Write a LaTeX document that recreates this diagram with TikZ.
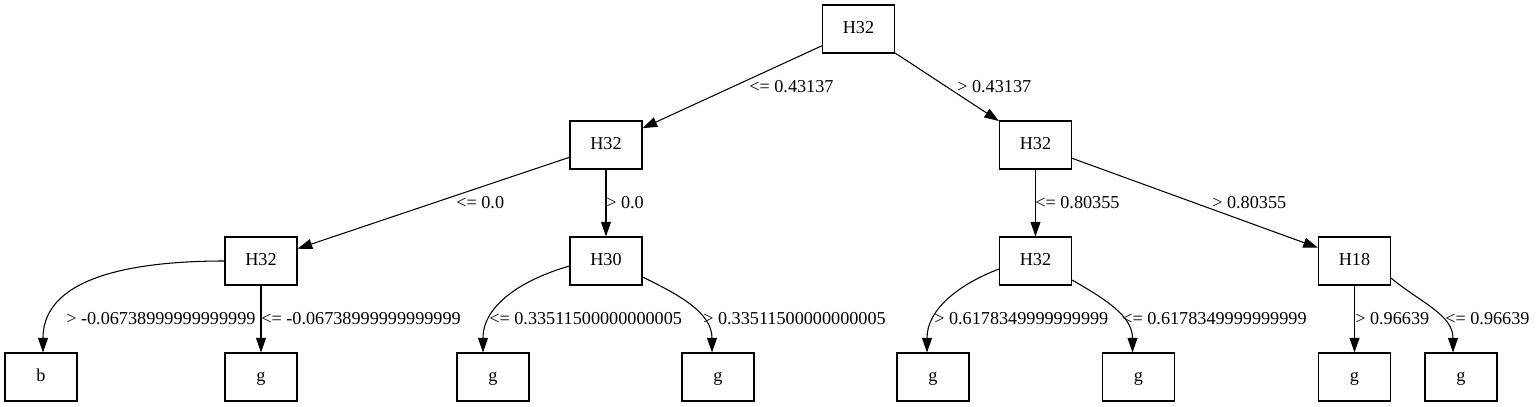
\documentclass[tikz,border=0pt]{standalone}
\usepackage{fontspec}
\setmainfont{Liberation Serif}
\usetikzlibrary{arrows.meta,calc}
\begin{document}
\begin{tikzpicture}[x=0.75pt,y=-0.75pt,
  box/.style={draw, line width=0.8pt, minimum width=54pt, minimum height=36pt,
    inner sep=0pt, text height=0.7em, text depth=0.1em,
    font=\fontsize{13.65pt}{16pt}\selectfont},
  lbl/.style={anchor=west, inner sep=0pt, font=\fontsize{13.65pt}{16pt}\selectfont},
  edge/.style={draw, line width=0.8pt, -{Triangle[length=11pt,width=7.5pt]}}]
\useasboundingbox (0,0) rectangle (1536,407);
% nodes
\node[box] (r)  at (858.5,29)  {H32};
\node[box] (a)  at (606,145)   {H32};
\node[box] (c)  at (1035.5,145){H32};
\node[box] (aa) at (261,261)   {H32};
\node[box] (ab) at (606,261)   {H30};
\node[box] (ca) at (1035.5,261){H32};
\node[box] (cb) at (1354.5,261){H18};
\node[box] (l1) at (41,377)    {b};
\node[box] (l2) at (261,377)   {g};
\node[box] (l3) at (493,377)   {g};
\node[box] (l4) at (718,377)   {g};
\node[box] (l5) at (933,377)   {g};
\node[box] (l6) at (1138.5,377){g};
\node[box] (l7) at (1354.5,377){g};
\node[box] (l8) at (1461,377)  {g};
% edges
\draw[edge] (r) -- (a);
\draw[edge] (r) -- (c);
\draw[edge] (a) -- (aa);
\draw[edge] (a) -- (ab);
\draw[edge] (c) -- (ca);
\draw[edge] (c) -- (cb);
\draw[edge] (aa.west) to[out=180,in=90] ($(l1.north)+(2,0)$);
\draw[edge] (aa) -- (l2);
\draw[edge] ($(ab.west)+(0,5)$) to[out=196,in=90] ($(l3.north)+(-10,0)$);
\draw[edge] ($(ab.east)+(0,16)$) to[out=-26,in=90] ($(l4.north)+(-6,0)$);
\draw[edge] ($(ca.west)+(0,8)$) to[out=201,in=90] ($(l5.north)+(-6,0)$);
\draw[edge] ($(ca.east)+(0,19)$) to[out=-30,in=90] ($(l6.north)+(-6,0)$);
\draw[edge] (cb) -- (l7);
\draw[edge] ($(cb.east)+(0,17)$) to[out=-40,in=90] ($(l8.north)+(-8,0)$);
% labels
\node[lbl] (t1) at (749,87)  {<= 0.43137};
\node[lbl] (t2) at (957,87)  {> 0.43137};
\node[lbl] (t3) at (456,203) {<= 0.0};
\node[lbl] (t4) at (606,203) {> 0.0};
\node[lbl] (t5) at (1035,203){<= 0.80355};
\node[lbl] (t6) at (1212,203){> 0.80355};
\node[lbl] (t7) at (66,318.5)   {> -0.06738999999999999};
\node[lbl] (t8) at (261,318.5)  {<= -0.06738999999999999};
\node[lbl] (t9) at (489,318.5)  {<= 0.33511500000000005};
\node[lbl] (t10) at (703,318.5) {> 0.33511500000000005};
\node[lbl] (t11) at (934,318.5) {> 0.6178349999999999};
\node[lbl] (t12) at (1122,318.5){<= 0.6178349999999999};
\node[lbl] (t13) at (1355,318.5){> 0.96639};
\node[lbl] (t14) at (1445,318.5){<= 0.96639};
\end{tikzpicture}
\end{document}
